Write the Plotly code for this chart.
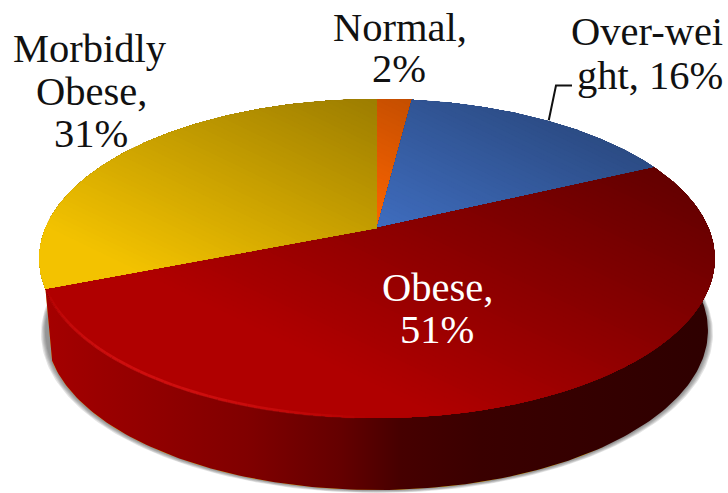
import numpy as np
import plotly.graph_objects as go

# ---- data (clockwise from 12 o'clock)
categories = ["Normal", "Overweight", "Obese", "Morbidly Obese"]
values = [2, 16, 51, 31]
base_colors = [(318, 127, 0), (80, 137, 240), (178, 0, 0), (245, 196, 0)]

# ---- label text (line, x, y, anchor, colour)
label_lines = ["Normal,", "2%", "Over-wei", "ght, 16%", "Obese,", "51%", "Morbidly", "Obese,", "31%"]
label_x = [400, 399, 569, 575, 437, 437, 90, 91, 91]
label_y = [27, 68, 31, 75, 287, 329, 48, 91, 133]
label_anchor = ["center", "center", "left", "left", "center", "center", "center", "center", "center"]
label_color = ["#111", "#111", "#111", "#111", "#fff", "#fff", "#111", "#111", "#111"]

# ---- pie geometry (projective tilt of a unit circle)
CX, CY = 378.0, 228.0
A, B, K = 331.5, 153.7, 0.191
DEPTH, SHRINK = 72.0, 0.98


def project(frac, lift=0.0, grow=0.0):
    th = 2 * np.pi * np.asarray(frac, dtype=float)
    x, y = np.sin(th), np.cos(th)
    d = 1 + K * y
    X = x * A / d
    Y = -y * B / d
    if lift:
        X = X * SHRINK
        Y = Y + lift
    if grow:
        X = X * (1 + grow / 330)
        Y = Y + grow * 0.6
    return CX + X - 1.0, CY + Y


def shade(px, py):
    return 0.8 + 0.2 * (CX - px) / 339 + 0.16 * (py - CY) / 130


def clip(px, py, level):
    out = []
    n = len(px)
    t = shade(px, py) - level
    for i in range(n):
        j = (i + 1) % n
        if t[i] >= 0:
            out.append((px[i], py[i]))
        if (t[i] >= 0) != (t[j] >= 0):
            f = t[i] / (t[i] - t[j])
            out.append((px[i] + f * (px[j] - px[i]), py[i] + f * (py[j] - py[i])))
    return out


total = sum(values)
edges = np.cumsum([0] + values) / total
fig = go.Figure()


def add(xs, ys, **kw):
    fig.add_trace(go.Scatter(x=list(xs), y=list(ys), mode="lines", line=dict(width=0),
                             hoverinfo="skip", showlegend=False, **kw))


# soft shadow below the disc
full = np.linspace(0, 1, 361)
for g in (5, 4, 3, 2, 1):
    sx, sy = project(full, DEPTH, g)
    add(sx, sy, fill="toself", fillcolor="rgba(70,70,70,0.15)")

# side wall of the yellow slice, then the red one
f = np.linspace(edges[3], edges[4] - 0.6, 80)
tx, ty = project(f)
bx, by = project(f, DEPTH)
add(np.r_[tx, bx[::-1]], np.r_[ty, by[::-1]], fill="toself", fillcolor="#e8b800")

f = np.linspace(edges[2], edges[3], 200)
tx, ty = project(f)
bx, by = project(f, DEPTH)
wall_scale = [[0.0, "#a40000"], [0.15, "#920000"], [0.30, "#800000"], [0.44, "#640000"],
              [0.53, "#460000"], [0.65, "#3a0000"], [1.0, "#2e0000"]]
add(np.r_[tx, bx[::-1]], np.r_[ty, by[::-1]], fill="toself",
    fillgradient=dict(type="horizontal", colorscale=wall_scale, start=48, stop=714))

# top faces, painted as nested shading levels
levels = np.arange(0.50, 1.0, 0.00625)
for i, base in enumerate(base_colors):
    f = np.linspace(edges[i], edges[i + 1], max(12, values[i] * 6))
    ax, ay = project(f)
    px = np.r_[CX - 1.0, ax]
    py = np.r_[CY, ay]
    for lv in levels:
        poly = clip(px, py, lv)
        if len(poly) < 3:
            continue
        c = [min(255, int(v * lv)) for v in base]
        add([p[0] for p in poly], [p[1] for p in poly], fill="toself",
            fillcolor=f"rgb({c[0]},{c[1]},{c[2]})")

# bright rim on the front edge of the red slice
rim = np.linspace(edges[3], 0.5, 45)
for j in range(len(rim) - 1):
    sx, sy = project(rim[j:j + 2])
    u = j / (len(rim) - 2)
    alpha = 0.6 * np.sin(np.pi * min(1, u * 1.02)) ** 0.7
    fig.add_trace(go.Scatter(x=sx, y=sy - 0.5, mode="lines",
                             line=dict(width=3, color=f"rgba(228,24,24,{alpha:.3f})"),
                             hoverinfo="skip", showlegend=False))

# leader line of the Over-weight label, from the slice's mid angle
mid = (edges[1] + edges[2]) / 2
lx, ly = project([mid])
fig.add_trace(go.Scatter(x=[lx[0] + 3, 556, 572], y=[ly[0], 85.5, 85.5], mode="lines",
                         line=dict(width=2, color="#111"), hoverinfo="skip", showlegend=False))

for s, x, y, a, c in zip(label_lines, label_x, label_y, label_anchor, label_color):
    fig.add_annotation(x=x, y=y, text=s, showarrow=False, xanchor=a, yanchor="middle",
                       font=dict(family="Liberation Serif", size=40.5, color=c))

fig.update_layout(
    width=728, height=493, margin=dict(l=0, r=0, t=0, b=0),
    paper_bgcolor="white", plot_bgcolor="white", showlegend=False,
    xaxis=dict(range=[0, 728], visible=False, fixedrange=True),
    yaxis=dict(range=[493, 0], visible=False, fixedrange=True),
)
fig.write_html("out.html", config={"displayModeBar": False},
               post_script="document.body.style.margin='0';")
